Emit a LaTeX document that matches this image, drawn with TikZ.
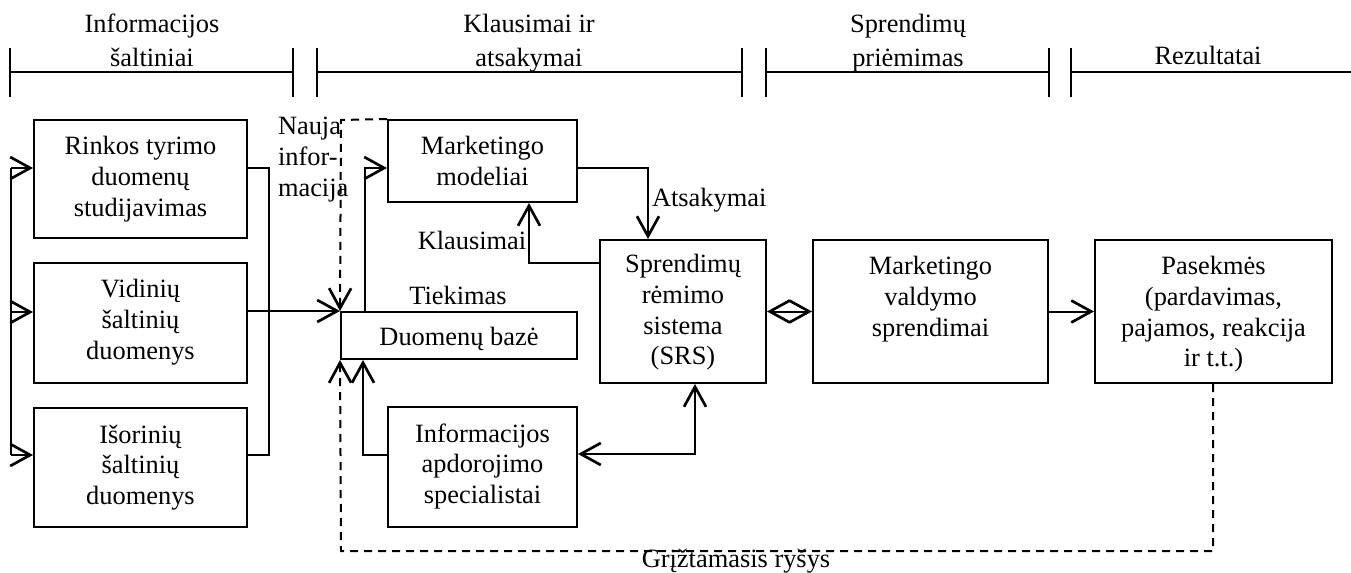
\documentclass[tikz,border=0pt]{standalone}
\usepackage{fontspec}
\setmainfont{Liberation Serif}
\usetikzlibrary{arrows.meta,fit}
% multi-line text whose baseline is the first line
\newcommand{\stackc}[1]{\begin{tabular}[t]{@{}c@{}}#1\end{tabular}}
\newcommand{\stackl}[1]{\begin{tabular}[t]{@{}l@{}}#1\end{tabular}}
\begin{document}
\begin{tikzpicture}[x=0.75pt,y=-0.75pt,line width=1.5pt,
  >={Straight Barb[length=15pt,width=16.5pt,line width=2pt]},
  box/.style={draw,inner sep=0pt,line width=1.5pt},
  txt/.style={anchor=base,inner sep=0pt,font=\fontsize{19.8}{23}\selectfont},
  hdr/.style={anchor=base,inner sep=0pt,font=\fontsize{19.8}{25.5}\selectfont},
  bar/.style={line width=1.5pt},
  fb/.style={dash pattern=on 6pt off 4.5pt,line width=1.5pt}]
\useasboundingbox (0,0) rectangle (1351,573);

% ---- phase bars along the top ----
\node[hdr] (h1) at (152,33) {\stackc{Informacijos\\šaltiniai}};
\node[hdr] (h2) at (529,33) {\stackc{Klausimai ir\\atsakymai}};
\node[hdr] (h3) at (908,33) {\stackc{Sprendimų\\priėmimas}};
\node[hdr] (h4) at (1208,65) {Rezultatai};
\draw[bar] (10,48) -- (10,97) (10,72) -- (293,72) (293,48) -- (293,97);
\draw[bar] (317,48) -- (317,97) (317,72) -- (742,72) (742,48) -- (742,97);
\draw[bar] (766,48) -- (766,97) (766,72) -- (1049,72) (1049,48) -- (1049,97);
\draw[bar] (1071,48) -- (1071,97) (1071,72) -- (1351,72);

% ---- boxes ----
\node[box,fit={(34,120)(247,238)}] (rinkos) {};
\node[box,fit={(34,263)(247,383)}] (vidiniu) {};
\node[box,fit={(34,408)(247,527)}] (isoriniu) {};
\node[box,fit={(388,120)(577,202)}] (modeliai) {};
\node[box,fit={(341,312)(577,359)}] (duomenu) {};
\node[box,fit={(388,407)(577,527)}] (specialistai) {};
\node[box,fit={(600,240)(766,383)}] (srs) {};
\node[box,fit={(813,240)(1048,383)}] (mvs) {};
\node[box,fit={(1095,240)(1332,383)}] (pasekmes) {};

% ---- box texts ----
\node[txt] (rinkosT) at (140.5,155) {\stackc{Rinkos tyrimo\\duomenų\\studijavimas}};
\node[txt] (vidiniuT) at (140.5,298) {\stackc{Vidinių\\šaltinių\\duomenys}};
\node[txt] (isoriniuT) at (140.5,443) {\stackc{Išorinių\\šaltinių\\duomenys}};
\node[txt] (modeliaiT) at (482.5,155) {\stackc{Marketingo\\modeliai}};
\node[txt] (duomenuT) at (459,345) {Duomenų bazė};
\node[txt] (specialistaiT) at (482.5,442) {\stackc{Informacijos\\apdorojimo\\specialistai}};
\node[txt] (srsT) at (683,273) {\stackc{Sprendimų\\rėmimo\\sistema\\(SRS)}};
\node[txt] (mvsT) at (930.5,275) {\stackc{Marketingo\\valdymo\\sprendimai}};
\node[txt] (pasekmesT) at (1213.5,275) {\stackc{Pasekmės\\(pardavimas,\\pajamos, reakcija\\ir t.t.)}};

% ---- connector labels ----
\node[txt,anchor=base west] (naujaL) at (277,135) {\stackl{Nauja\\infor-\\macija}};
\node[txt] (tiekL) at (458,305) {Tiekimas};
\node[txt] (klausL) at (472,250) {Klausimai};
\node[txt,anchor=base west] (atsL) at (651,207) {Atsakymai};
\node[txt] (fbL) at (736,567) {Grįžtamasis ryšys};

% ---- bend points ----
\coordinate (lb1) at (11,168);
\coordinate (lb2) at (11,312);
\coordinate (lb3) at (11,455);
\coordinate (rb1) at (269,168);
\coordinate (rb3) at (269,455);
\coordinate (nk) at (341,120);
\coordinate (tk) at (365,168);
\coordinate (at) at (648,168);
\coordinate (kl) at (529,263);
\coordinate (sp) at (363,455);
\coordinate (ss) at (695,454);
\coordinate (fr) at (1213,551);
\coordinate (fl) at (341,551);

% ---- sources ----
\draw (lb1) -- (lb3);
\draw[->] (lb1) -- (lb1 -| rinkos.west);
\draw[->] (lb2) -- (lb2 -| vidiniu.west);
\draw[->] (lb3) -- (lb3 -| isoriniu.west);
\draw (rb1 -| rinkos.east) -- (rb1) -- (rb3) -- (rb3 -| isoriniu.east);
\draw[->] (vidiniu.east |- duomenu.north west) -- (duomenu.north west);

% ---- new information (dashed) ----
\draw[fb,->] (modeliai.north west) -- (nk) -- (duomenu.north west);

% ---- supply, answers, questions ----
\draw[->] (tk |- duomenu.north) -- (tk) -- (tk -| modeliai.west);
\draw[->] (at -| modeliai.east) -- (at) -- (at |- srs.north);
\draw[->] (kl -| srs.west) -- (kl) -- (kl |- modeliai.south);

% ---- specialists ----
\draw[->] (sp -| specialistai.west) -- (sp) -- (sp |- duomenu.south);
\draw[<->] (ss -| specialistai.east) -- (ss) -- (ss |- srs.south);

% ---- decisions and results ----
\draw[<->] (srs.east) -- (mvs.west);
\draw[->] (mvs.east) -- (pasekmes.west);

% ---- feedback (dashed) ----
\draw[fb,->] (fr |- pasekmes.south) -- (fr) -- (fl) -- (duomenu.south west);
\end{tikzpicture}
\end{document}
